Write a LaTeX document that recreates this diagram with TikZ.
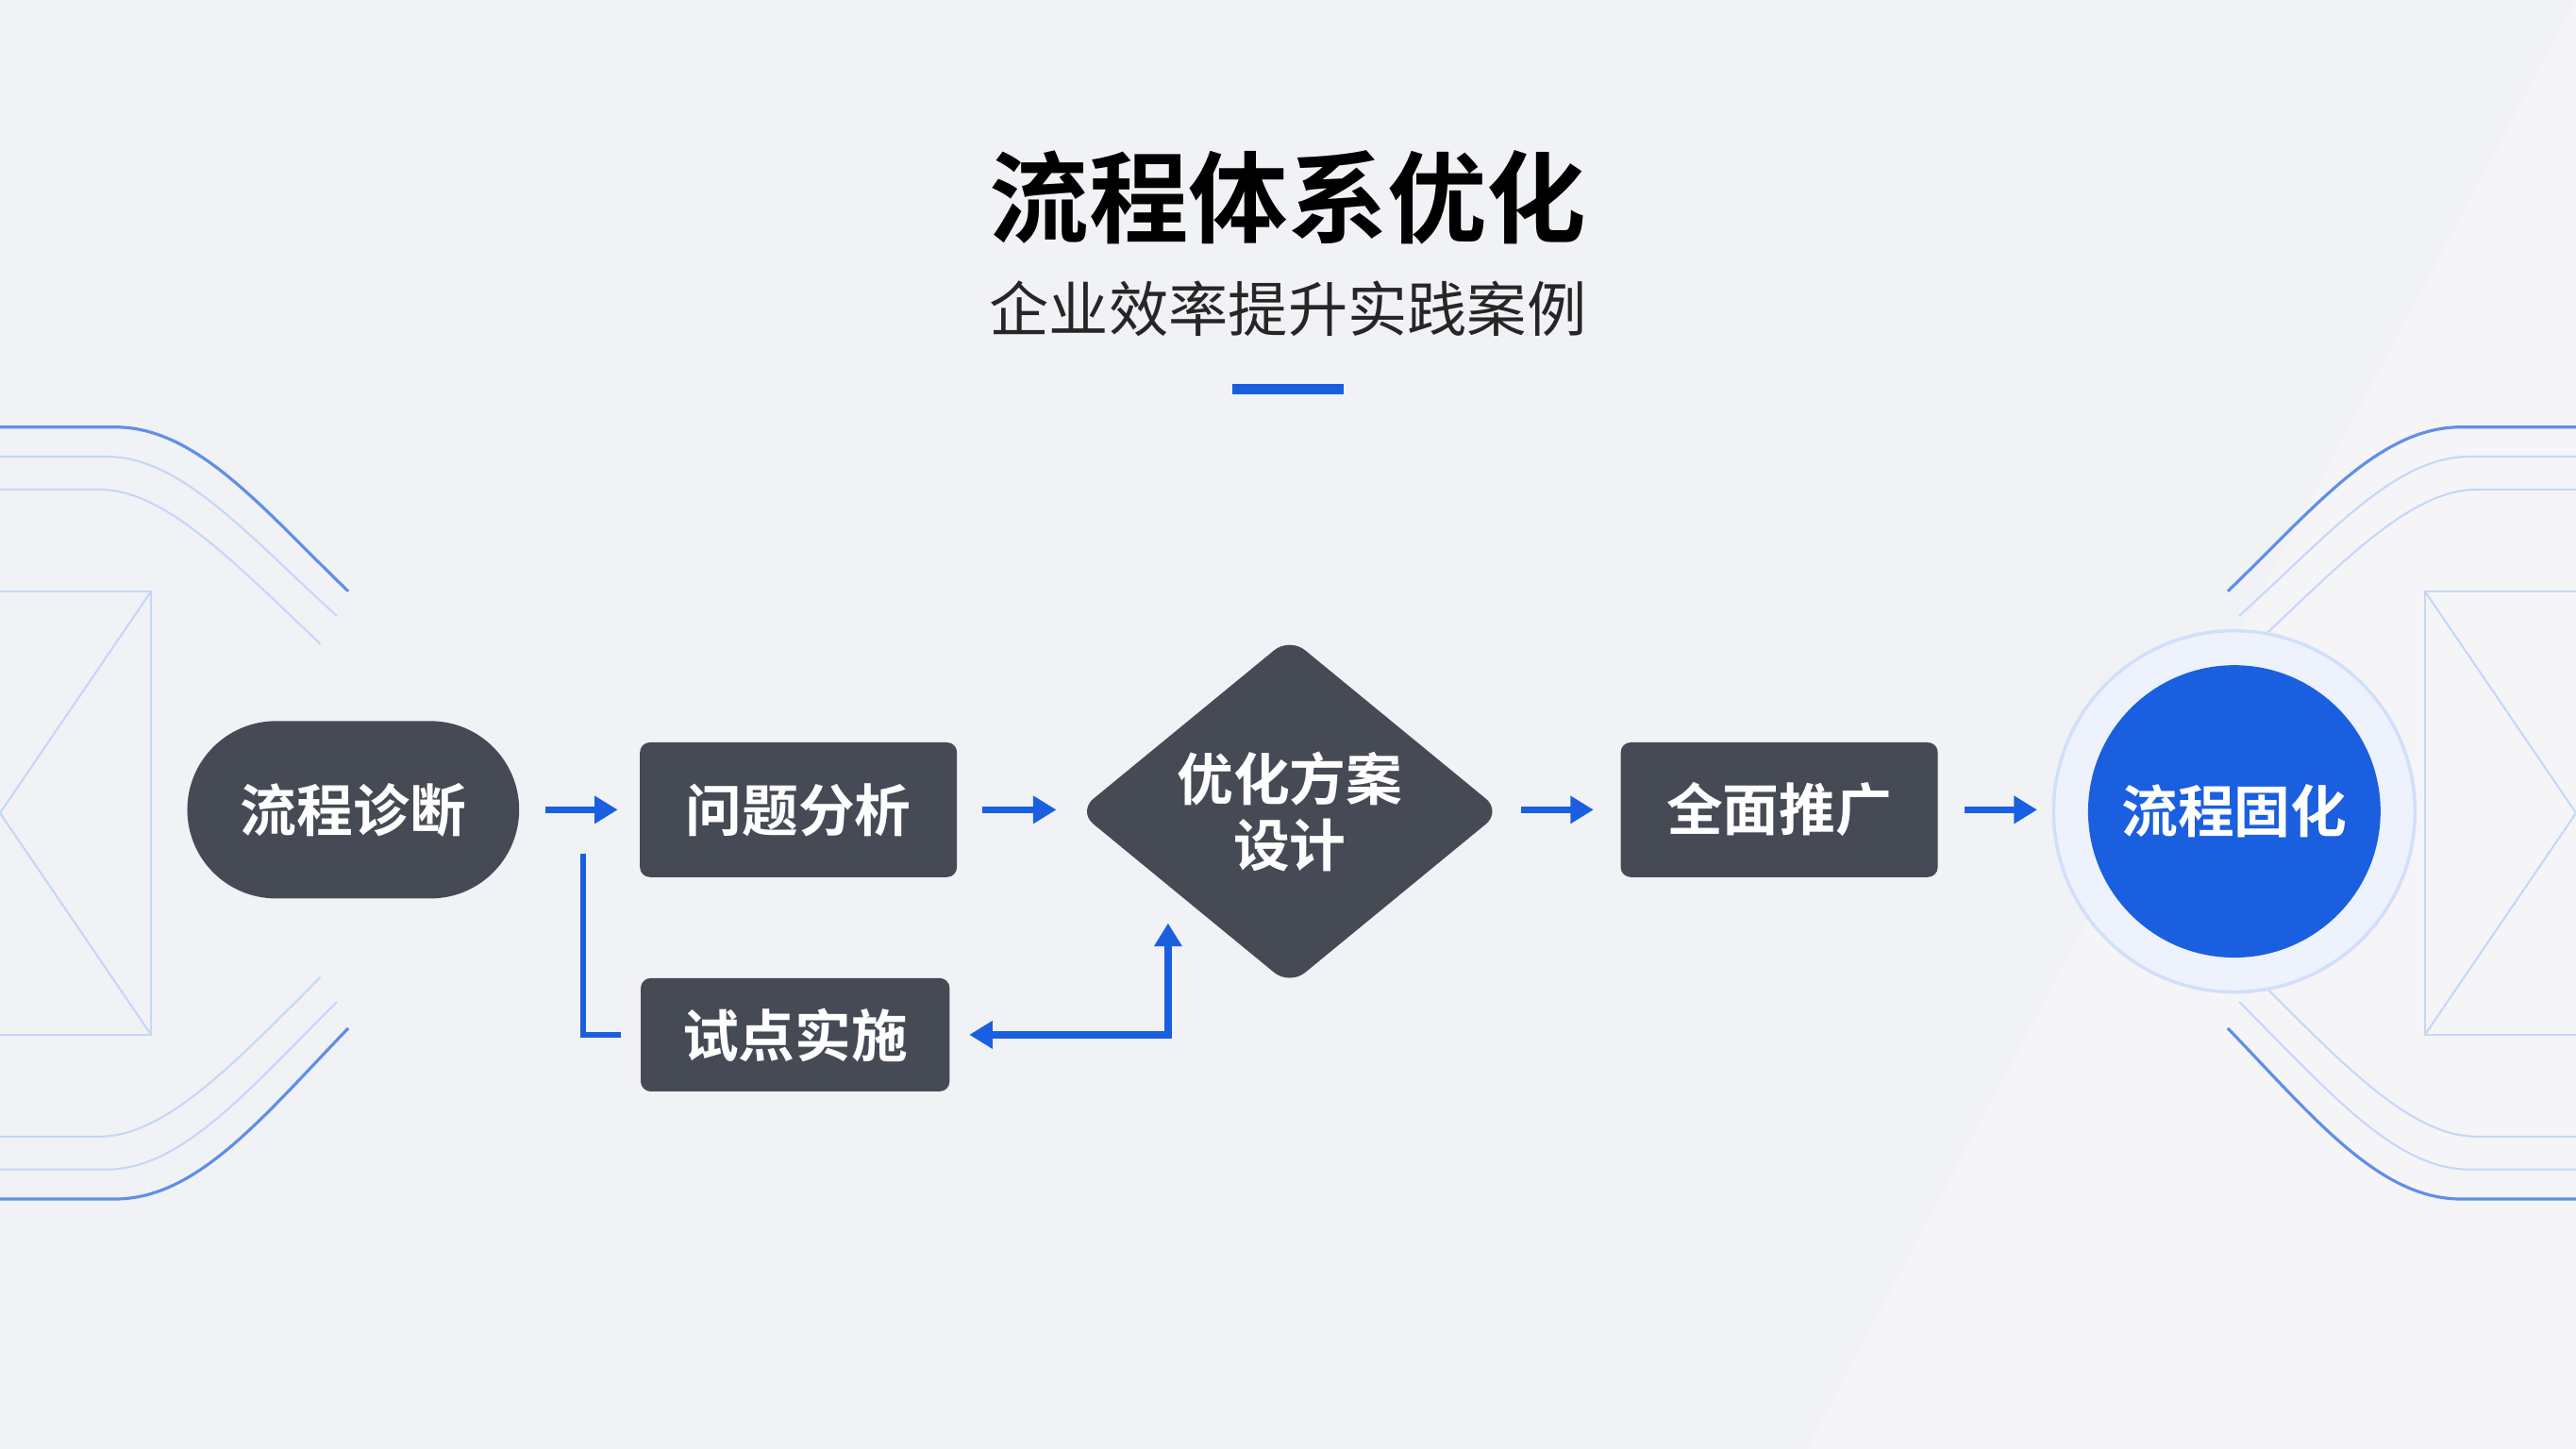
\documentclass[tikz,border=0pt]{standalone}
\usepackage{fontspec}
\newfontfamily\cjk{Noto Sans CJK SC}
\newfontfamily\cjkb{Noto Sans CJK SC Bold}
\usetikzlibrary{shapes.geometric,shapes.misc,arrows.meta}
\definecolor{dark}{HTML}{464A55}
\definecolor{blu}{HTML}{1A5FE0}
\definecolor{bg}{HTML}{F1F2F5}
\tikzset{
 pr/.style={fill=dark,text=white,font=\cjkb\fontsize{17}{20}\selectfont,align=center},
 rbox/.style={pr,rounded corners=3pt,minimum width=193*0.01741cm,minimum height=82*0.01741cm},
 flow/.style={blu,line width=2.2pt,-{Triangle[length=7pt,width=8pt]}},
 deco/.style={blu!70!white,line width=0.9pt},
 decol/.style={blu!25!white,line width=0.6pt},
}
\begin{document}
\begin{tikzpicture}[x=0.01741cm,y=-0.01741cm]
\fill[bg] (0,0) rectangle (1568,882);
\useasboundingbox (0,0) rectangle (1568,882);
\fill[white,opacity=0.3] (1568,0) -- (1568,882) -- (1100,882) -- cycle;
% title
\node[font=\cjkb\fontsize{30}{34}\selectfont,text=black] (t) at (784,120) {流程体系优化};
\node[font=\cjk\fontsize{18}{22}\selectfont,text=black!85] (st) at (784,188) {企业效率提升实践案例};
\draw[blu,line width=3pt] (750,237) -- (818,237);
% decorations
\foreach \s in {1,-1}{
 \begin{scope}[shift={(784,0)},xscale=\s,shift={(-784,0)}]
  \draw[deco] (0,260) -- (70,260) .. controls (120,260) and (160,310) .. (212,360);
  \draw[decol] (0,278) -- (65,278) .. controls (110,278) and (150,325) .. (205,375);
  \draw[decol] (0,298) -- (60,298) .. controls (100,298) and (140,340) .. (195,392);
  \draw[deco] (0,730) -- (70,730) .. controls (120,730) and (160,680) .. (212,626);
  \draw[decol] (0,712) -- (65,712) .. controls (110,712) and (150,665) .. (205,610);
  \draw[decol] (0,692) -- (60,692) .. controls (100,692) and (140,650) .. (195,595);
  \draw[decol] (0,360) -- (92,360) -- (92,630) -- (0,630);
  \draw[decol] (92,360) -- (0,495) -- (92,630);
 \end{scope}}
% nodes
\node[pr,rounded rectangle,minimum width=202*0.01741cm,minimum height=108*0.01741cm,inner sep=0pt] (a) at (215,493) {流程诊断};
\node[rbox] (b) at (486,493) {问题分析};
\node[pr,diamond,minimum width=258*0.01741cm,minimum height=212*0.01741cm,aspect=1.2,inner sep=0pt,rounded corners=6pt] (c) at (785,494) {优化方案\\设计};
\node[rbox] (d) at (1083,493) {全面推广};
\node[rbox,minimum width=188*0.01741cm,minimum height=69*0.01741cm] (e) at (484,630) {试点实施};
\fill[blu!8] (1360,494) circle (110);
\draw[blu!20,line width=1pt] (1360,494) circle (110);
\node[pr,circle,fill=blu,minimum size=178*0.01741cm,inner sep=0pt] (f) at (1360,494) {流程固化};
% arrows
\coordinate (a1) at (332,493); \coordinate (a2) at (376,493);
\coordinate (b1) at (598,493); \coordinate (b2) at (643,493);
\coordinate (c1) at (926,493); \coordinate (c2) at (970,493);
\coordinate (d1) at (1196,493); \coordinate (d2) at (1240,493);
\draw[flow] (a1) -- (a2);
\draw[flow] (b1) -- (b2);
\draw[flow] (c1) -- (c2);
\draw[flow] (d1) -- (d2);
\coordinate (l1) at (355,520); \coordinate (l2) at (378,630);
\draw[blu,line width=1.8pt] (l1) |- (l2);
\coordinate (r0) at (711,630); \coordinate (r1) at (590,630); \coordinate (r2) at (711,562);
\draw[flow,{Triangle[length=7pt,width=8pt]}-{Triangle[length=7pt,width=8pt]}] (r1) -- (r0) -- (r2);
\end{tikzpicture}
\end{document}
